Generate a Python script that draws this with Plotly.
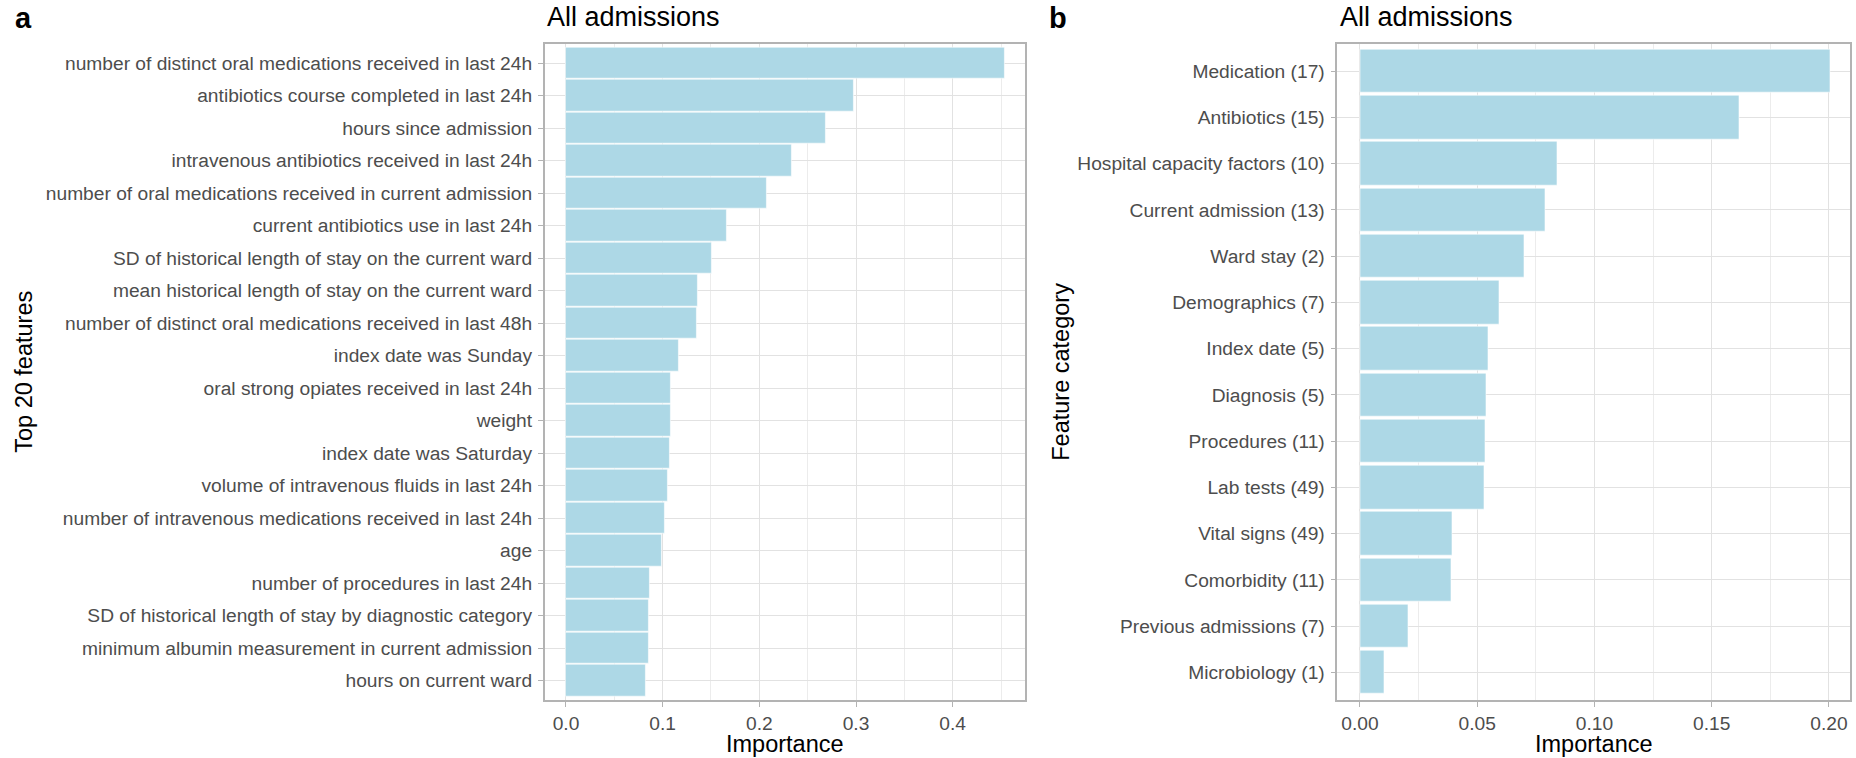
import plotly.graph_objects as go

# Panel a: top 20 individual features, ordered from most to least important
features = [
    "number of distinct oral medications received in last 24h",
    "antibiotics course completed in last 24h",
    "hours since admission",
    "intravenous antibiotics received in last 24h",
    "number of oral medications received in current admission",
    "current antibiotics use in last 24h",
    "SD of historical length of stay on the current ward",
    "mean historical length of stay on the current ward",
    "number of distinct oral medications received in last 48h",
    "index date was Sunday",
    "oral strong opiates received in last 24h",
    "weight",
    "index date was Saturday",
    "volume of intravenous fluids in last 24h",
    "number of intravenous medications received in last 24h",
    "age",
    "number of procedures in last 24h",
    "SD of historical length of stay by diagnostic category",
    "minimum albumin measurement in current admission",
    "hours on current ward",
]
feature_importance = [
    0.454, 0.298, 0.269, 0.233, 0.208, 0.166, 0.151, 0.136, 0.135, 0.117,
    0.108, 0.108, 0.107, 0.105, 0.102, 0.099, 0.087, 0.086, 0.086, 0.082,
]

# Panel b: importance aggregated by feature category (number of features)
categories = [
    "Medication (17)",
    "Antibiotics (15)",
    "Hospital capacity factors (10)",
    "Current admission (13)",
    "Ward stay (2)",
    "Demographics (7)",
    "Index date (5)",
    "Diagnosis (5)",
    "Procedures (11)",
    "Lab tests (49)",
    "Vital signs (49)",
    "Comorbidity (11)",
    "Previous admissions (7)",
    "Microbiology (1)",
]
category_importance = [
    0.2006, 0.1619, 0.0843, 0.0789, 0.0699, 0.0593, 0.0547,
    0.0537, 0.0536, 0.0532, 0.0395, 0.0391, 0.0208, 0.0102,
]

W, H = 1856, 758
FONT = "Liberation Sans, Arial, Helvetica, sans-serif"
BAR = "#ADD8E6"
BORDER = "#b3b3b3"
GRID = "#e2e2e2"
GRID_MINOR = "#ececec"
TICK_FONT = dict(family=FONT, size=19.2, color="#4d4d4d")


def px_x(v):
    return v / W


def px_y(v):
    return 1 - v / H


fig = go.Figure()
fig.add_trace(go.Bar(
    x=feature_importance, y=features, orientation="h",
    xaxis="x", yaxis="y", width=0.96,
    marker=dict(color=BAR, line=dict(color="white", width=0.6)),
    showlegend=False, hoverinfo="x+y",
))
fig.add_trace(go.Bar(
    x=category_importance, y=categories, orientation="h",
    xaxis="x2", yaxis="y2", width=0.94,
    marker=dict(color=BAR, line=dict(color="white", width=0.6)),
    showlegend=False, hoverinfo="x+y",
))

y_dom = [px_y(700), px_y(43.5)]


def x_axis(domain, rng, dtick, fmt, anchor):
    return dict(
        domain=domain, range=rng, anchor=anchor,
        tick0=0, dtick=dtick, tickformat=fmt,
        showgrid=True, gridcolor=GRID, gridwidth=1,
        minor=dict(dtick=dtick / 2, tick0=0, showgrid=True,
                   gridcolor=GRID_MINOR, gridwidth=1),
        zeroline=False, showline=True, mirror=True,
        linecolor=BORDER, linewidth=1.5,
        ticks="outside", ticklen=5, tickcolor=BORDER, tickwidth=1,
        tickfont=TICK_FONT, automargin=False,
    )


def y_axis(n, anchor):
    return dict(
        domain=y_dom, anchor=anchor, type="category",
        range=[n - 1 + 0.6, -0.6],
        showgrid=True, gridcolor=GRID, gridwidth=1,
        zeroline=False, showline=True, mirror=True,
        linecolor=BORDER, linewidth=1.5,
        ticks="outside", ticklen=5, tickcolor=BORDER, tickwidth=1,
        tickfont=TICK_FONT, automargin=False, ticklabelstandoff=2,
    )


fig.update_layout(
    width=W, height=H,
    margin=dict(l=0, r=0, t=0, b=0),
    paper_bgcolor="white", plot_bgcolor="white",
    font=dict(family=FONT),
    bargap=0,
    xaxis=x_axis([px_x(544.7), px_x(1025.3)], [-0.022, 0.4751], 0.1, ".1f", "y"),
    yaxis=y_axis(len(features), "x"),
    xaxis2=x_axis([px_x(1337.3), px_x(1850)], [-0.00968, 0.2090], 0.05, ".2f", "y2"),
    yaxis2=y_axis(len(categories), "x2"),
)

ann = []
# panel letters
for letter, x in (("a", 13), ("b", 1047)):
    ann.append(dict(text=f"<b>{letter}</b>", x=px_x(x), y=px_y(18), xref="paper", yref="paper",
                    xanchor="left", yanchor="middle", showarrow=False,
                    font=dict(family=FONT, size=29, color="black")))
# panel titles
for x in (545, 1338):
    ann.append(dict(text="All admissions", x=px_x(x), y=px_y(17), xref="paper", yref="paper",
                    xanchor="left", yanchor="middle", showarrow=False,
                    font=dict(family=FONT, size=27, color="black")))
# axis titles
for x in (785, (1337.3 + 1850) / 2):
    ann.append(dict(text="Importance", x=px_x(x), y=px_y(744), xref="paper", yref="paper",
                    xanchor="center", yanchor="middle", showarrow=False,
                    font=dict(family=FONT, size=23.5, color="black")))
for text, x in (("Top 20 features", 24), ("Feature category", 1061)):
    ann.append(dict(text=text, x=px_x(x), y=px_y(371.75), xref="paper", yref="paper",
                    xanchor="center", yanchor="middle", textangle=-90, showarrow=False,
                    font=dict(family=FONT, size=23.5, color="black")))
fig.update_layout(annotations=ann)

fig.write_html("out.html")
